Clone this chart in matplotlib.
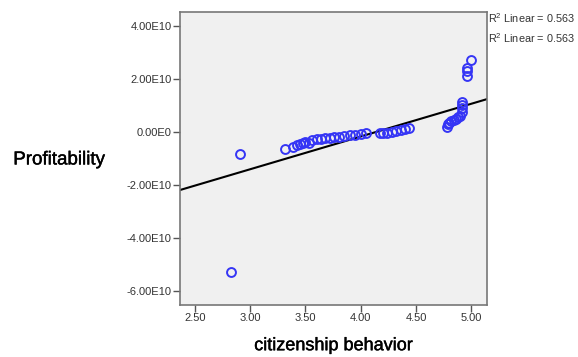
import numpy as np
import matplotlib
matplotlib.use('Agg')
import matplotlib.pyplot as plt
import matplotlib.patheffects as pe

plt.rcParams['font.family'] = ['Liberation Sans', 'DejaVu Sans']
plt.rcParams['mathtext.fontset'] = 'custom'
plt.rcParams['mathtext.rm'] = 'Liberation Sans'
plt.rcParams['mathtext.default'] = 'regular'

# citizenship behavior (x) vs profitability (y, in 1E10 units)
cit = [2.83, 2.91, 3.31,
       3.39, 3.42, 3.45, 3.48, 3.50, 3.53, 3.56, 3.60, 3.64, 3.68, 3.72,
       3.76, 3.80, 3.85, 3.90, 3.95, 4.00, 4.05,
       4.17, 4.20, 4.24, 4.28, 4.32, 4.36, 4.40, 4.44,
       4.78, 4.79, 4.80, 4.82, 4.84, 4.86, 4.88, 4.90, 4.92, 4.92, 4.92, 4.92,
       4.96, 4.96, 4.96, 5.00]
profit = [-5.28, -0.83, -0.65,
          -0.55, -0.50, -0.45, -0.40, -0.37, -0.42, -0.32, -0.28, -0.25, -0.24, -0.22,
          -0.20, -0.18, -0.16, -0.13, -0.10, -0.07, -0.04,
          -0.05, -0.03, -0.02, 0.00, 0.03, 0.06, 0.10, 0.15,
          0.20, 0.30, 0.35, 0.40, 0.45, 0.50, 0.55, 0.62, 0.75, 0.90, 1.02, 1.12,
          2.12, 2.30, 2.42, 2.73]

# linear fit as drawn (intercept, slope) in 1E10 units
fit_b0 = -5.11
fit_b1 = 1.235
r2_label = r'R$^2$ Linear = 0.563'

xticks = [2.5, 3.0, 3.5, 4.0, 4.5, 5.0]
yticks = [4, 2, 0, -2, -4, -6]
ytick_labels = ['4.00E10', '2.00E10', '0.00E0', '-2.00E10', '-4.00E10', '-6.00E10']

fig = plt.figure(figsize=(5.78, 3.57), dpi=100)
ax = fig.add_axes([0.3114, 0.1457, 0.531, 0.8207])
ax.set_facecolor('#f0f0f0')

ax.plot(cit, profit, 'o', mfc='none', mec='#3535f5', ms=6.4, mew=1.4, zorder=3)

xmin, xmax = 2.364, 5.142
xl = np.array([xmin, xmax])
ax.plot(xl, fit_b0 + fit_b1 * xl, color='black', lw=1.5, zorder=2)

ax.set_xlim(xmin, xmax)
ax.set_ylim(-6.53, 4.53)
ax.set_xticks(xticks)
ax.set_xticklabels(['%.2f' % v for v in xticks])
ax.set_yticks(yticks)
ax.set_yticklabels(ytick_labels)
ax.tick_params(labelsize=8, colors='#555555', labelcolor='#333333', length=5, width=1, pad=1)

for s in ax.spines.values():
    s.set_color('#777777')
    s.set_linewidth(1.2)

thick = [pe.withStroke(linewidth=0.3, foreground='black')]
xlab = ax.set_xlabel('citizenship behavior', fontsize=13, labelpad=10)
xlab.set_path_effects(thick)
ylab = fig.text(0.102, 0.552, 'Profitability', fontsize=13.5, ha='center', va='center')
ylab.set_path_effects(thick)

fig.text(0.845, 0.948, r2_label, fontsize=7.8, color='#333333', ha='left', va='center')
fig.text(0.845, 0.893, r2_label, fontsize=7.8, color='#333333', ha='left', va='center')

fig.savefig('out.png', dpi=100)
